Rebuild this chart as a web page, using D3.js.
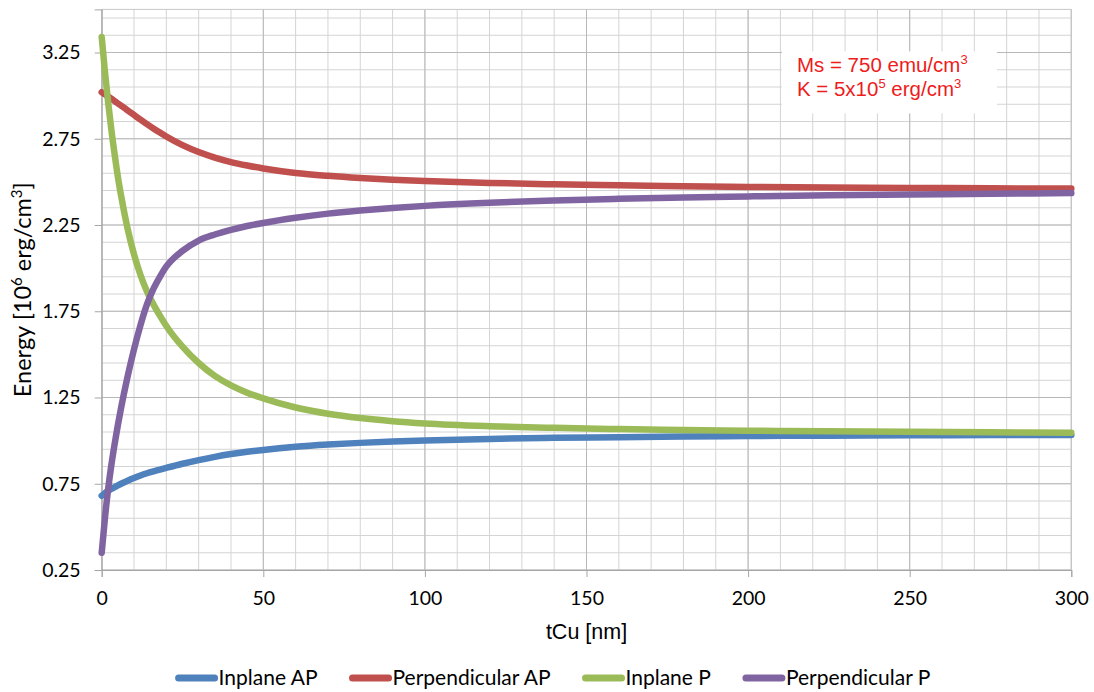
<!DOCTYPE html>
<html>
<head>
<meta charset="utf-8">
<script src="https://cdn.jsdelivr.net/npm/d3@7"></script>
<style>
  html, body { margin: 0; padding: 0; background: #ffffff; }
  svg { display: block; }
</style>
</head>
<body>
<svg id="chart" width="1094" height="692"></svg>
<script>
// Copper spacer thickness (nm)
const tCu = [0, 1, 2, 3, 4, 5, 6, 8, 10, 12, 14, 16, 18, 20, 25, 30, 35, 40, 45, 50, 60, 70, 80, 90, 100, 120, 140, 160, 180, 200, 225, 250, 275, 300];

// Energy densities (10^6 erg/cm^3)
const inplaneAP = [0.68, 0.695, 0.71, 0.72, 0.73, 0.74, 0.75, 0.767, 0.783, 0.798, 0.811, 0.822, 0.832, 0.842, 0.866, 0.887, 0.906, 0.922, 0.935, 0.946, 0.964, 0.977, 0.987, 0.995, 1.001, 1.01, 1.016, 1.02, 1.024, 1.027, 1.029, 1.031, 1.032, 1.033];
const perpendicularAP = [3.02, 3.008, 2.995, 2.982, 2.968, 2.955, 2.942, 2.915, 2.888, 2.861, 2.835, 2.81, 2.786, 2.763, 2.713, 2.673, 2.641, 2.615, 2.595, 2.578, 2.552, 2.535, 2.522, 2.512, 2.505, 2.494, 2.486, 2.48, 2.475, 2.471, 2.468, 2.465, 2.463, 2.461];
const inplaneP = [3.34, 3.14, 2.96, 2.80, 2.66, 2.53, 2.42, 2.23, 2.08, 1.96, 1.865, 1.79, 1.725, 1.665, 1.545, 1.45, 1.375, 1.32, 1.278, 1.245, 1.192, 1.156, 1.131, 1.113, 1.10, 1.084, 1.074, 1.067, 1.062, 1.058, 1.054, 1.051, 1.048, 1.046];
const perpendicularP = [0.35, 0.55, 0.72, 0.86, 0.98, 1.09, 1.19, 1.37, 1.53, 1.67, 1.79, 1.88, 1.95, 2.01, 2.10, 2.16, 2.195, 2.222, 2.244, 2.262, 2.292, 2.316, 2.334, 2.349, 2.361, 2.379, 2.392, 2.402, 2.41, 2.416, 2.422, 2.427, 2.431, 2.435];

const seriesNames = ["Inplane AP", "Perpendicular AP", "Inplane P", "Perpendicular P"];
const seriesValues = [inplaneAP, perpendicularAP, inplaneP, perpendicularP];
const seriesColors = ["#4F81BD", "#C0504D", "#9BBB59", "#8064A2"];

const xTicks = [0, 50, 100, 150, 200, 250, 300];
const yTicks = [0.25, 0.75, 1.25, 1.75, 2.25, 2.75, 3.25];
const xDomain = [0, 300];
const yDomain = [0.25, 3.5];

const svg = d3.select("#chart");
const W = 1094, H = 692;
const margin = { left: 101.7, right: W - 1071.3, top: 9.4, bottom: H - 570 };
const plotW = W - margin.left - margin.right;
const plotH = H - margin.top - margin.bottom;

const x = d3.scaleLinear().domain(xDomain).range([0, plotW]);
const y = d3.scaleLinear().domain(yDomain).range([plotH, 0]);

const calibriLike = "Lato, 'Open Sans', sans-serif";
const arialLike = "'Liberation Sans', Arial, sans-serif";

const g = svg.append("g").attr("transform", `translate(${margin.left},${margin.top})`);

// Minor grid: every 10 nm, every 0.1 starting at 0.25
const xMinor = d3.range(0, 300.001, 10);
const yMinor = d3.range(0, 33).map(i => +(0.25 + i * 0.1).toFixed(2)).filter(v => v <= 3.5);

g.append("g").selectAll("line").data(xMinor).join("line")
  .attr("x1", d => x(d)).attr("x2", d => x(d))
  .attr("y1", 0).attr("y2", plotH)
  .attr("stroke", "#d4d4d4").attr("stroke-width", 1);

g.append("g").selectAll("line").data(yMinor).join("line")
  .attr("x1", 0).attr("x2", plotW)
  .attr("y1", d => y(d)).attr("y2", d => y(d))
  .attr("stroke", "#d4d4d4").attr("stroke-width", 1);

// Major grid
g.append("g").selectAll("line").data(xTicks).join("line")
  .attr("x1", d => x(d)).attr("x2", d => x(d))
  .attr("y1", 0).attr("y2", plotH)
  .attr("stroke", "#b8b8b8").attr("stroke-width", 1);

g.append("g").selectAll("line").data(yTicks).join("line")
  .attr("x1", 0).attr("x2", plotW)
  .attr("y1", d => y(d)).attr("y2", d => y(d))
  .attr("stroke", "#b8b8b8").attr("stroke-width", 1);

// Plot frame top / right
g.append("line").attr("x1", 0).attr("x2", plotW).attr("y1", 0).attr("y2", 0)
  .attr("stroke", "#c8c8c8");
g.append("line").attr("x1", plotW).attr("x2", plotW).attr("y1", 0).attr("y2", plotH)
  .attr("stroke", "#c8c8c8");

// Axes
const xAxis = d3.axisBottom(x).tickValues(xTicks).tickSize(7).tickPadding(14).tickFormat(d3.format("d"));
const yAxis = d3.axisLeft(y).tickValues(yTicks).tickSize(7).tickPadding(14).tickFormat(d3.format(".2f"));

const gx = g.append("g").attr("transform", `translate(0,${plotH})`).call(xAxis);
const gy = g.append("g").call(yAxis);

[gx, gy].forEach(ax => {
  ax.select(".domain").attr("stroke", "#a6a6a6").attr("stroke-width", 1);
  ax.selectAll(".tick line").attr("stroke", "#a6a6a6");
  ax.selectAll(".tick text")
    .attr("font-family", calibriLike)
    .attr("font-size", 19.5)
    .attr("fill", "#000");
});
gx.selectAll(".tick text").attr("dy", "0.71em");

// Series lines
const line = d3.line()
  .x((d, i) => x(tCu[i]))
  .y(d => y(d))
  .curve(d3.curveMonotoneX);

g.append("g").selectAll("path").data(seriesValues).join("path")
  .attr("d", d => line(d))
  .attr("fill", "none")
  .attr("stroke", (d, i) => seriesColors[i])
  .attr("stroke-width", 6.5)
  .attr("stroke-linecap", "round")
  .attr("stroke-linejoin", "round");

// Parameter note
const note = g.append("g").attr("transform", `translate(${x(225) - 45},${y(3.5)})`);
note.append("rect")
  .attr("x", -2).attr("y", 42).attr("width", 215).attr("height", 62)
  .attr("fill", "#ffffff");
const noteRed = "#EE1C1C";
const t1 = note.append("text")
  .attr("x", 13).attr("y", 63)
  .attr("font-family", arialLike).attr("font-size", 20.5).attr("fill", noteRed);
t1.append("tspan").text("Ms = 750 emu/cm");
t1.append("tspan").attr("font-size", 13).attr("dy", -8).text("3");
const t2 = note.append("text")
  .attr("x", 13).attr("y", 87)
  .attr("font-family", arialLike).attr("font-size", 20.5).attr("fill", noteRed);
t2.append("tspan").text("K = 5x10");
t2.append("tspan").attr("font-size", 13).attr("dy", -8).text("5");
t2.append("tspan").attr("dy", 8).text(" erg/cm");
t2.append("tspan").attr("font-size", 13).attr("dy", -8).text("3");

// Axis titles
svg.append("text")
  .attr("x", margin.left + plotW / 2).attr("y", 639)
  .attr("text-anchor", "middle")
  .attr("font-family", arialLike).attr("font-size", 21.5).attr("fill", "#000")
  .text("tCu [nm]");

const yt = svg.append("text")
  .attr("transform", `translate(31,${margin.top + plotH / 2}) rotate(-90)`)
  .attr("text-anchor", "middle")
  .attr("font-family", calibriLike).attr("font-size", 23.5).attr("fill", "#000");
yt.append("tspan").text("Energy [10");
yt.append("tspan").attr("font-size", 15).attr("dy", -9).text("6");
yt.append("tspan").attr("dy", 9).text(" erg/cm");
yt.append("tspan").attr("font-size", 15).attr("dy", -9).text("3");
yt.append("tspan").attr("dy", 9).text("]");

// Legend
const legend = svg.append("g");
const swatchLen = 42, swatchGap = 1, itemGap = 32;
let cursor = 0;
seriesNames.forEach((name, i) => {
  const item = legend.append("g").attr("transform", `translate(${cursor},0)`);
  item.append("line")
    .attr("x1", 3).attr("x2", swatchLen - 3).attr("y1", 0).attr("y2", 0)
    .attr("stroke", seriesColors[i]).attr("stroke-width", 7).attr("stroke-linecap", "round");
  const txt = item.append("text")
    .attr("x", swatchLen + swatchGap).attr("y", 0).attr("dy", "0.35em")
    .attr("font-family", calibriLike).attr("font-size", 21).attr("fill", "#000")
    .text(name);
  cursor += swatchLen + swatchGap + txt.node().getComputedTextLength() + itemGap;
});
const legendW = cursor - itemGap;
legend.attr("transform", `translate(${553 - legendW / 2},678)`);
</script>
</body>
</html>
